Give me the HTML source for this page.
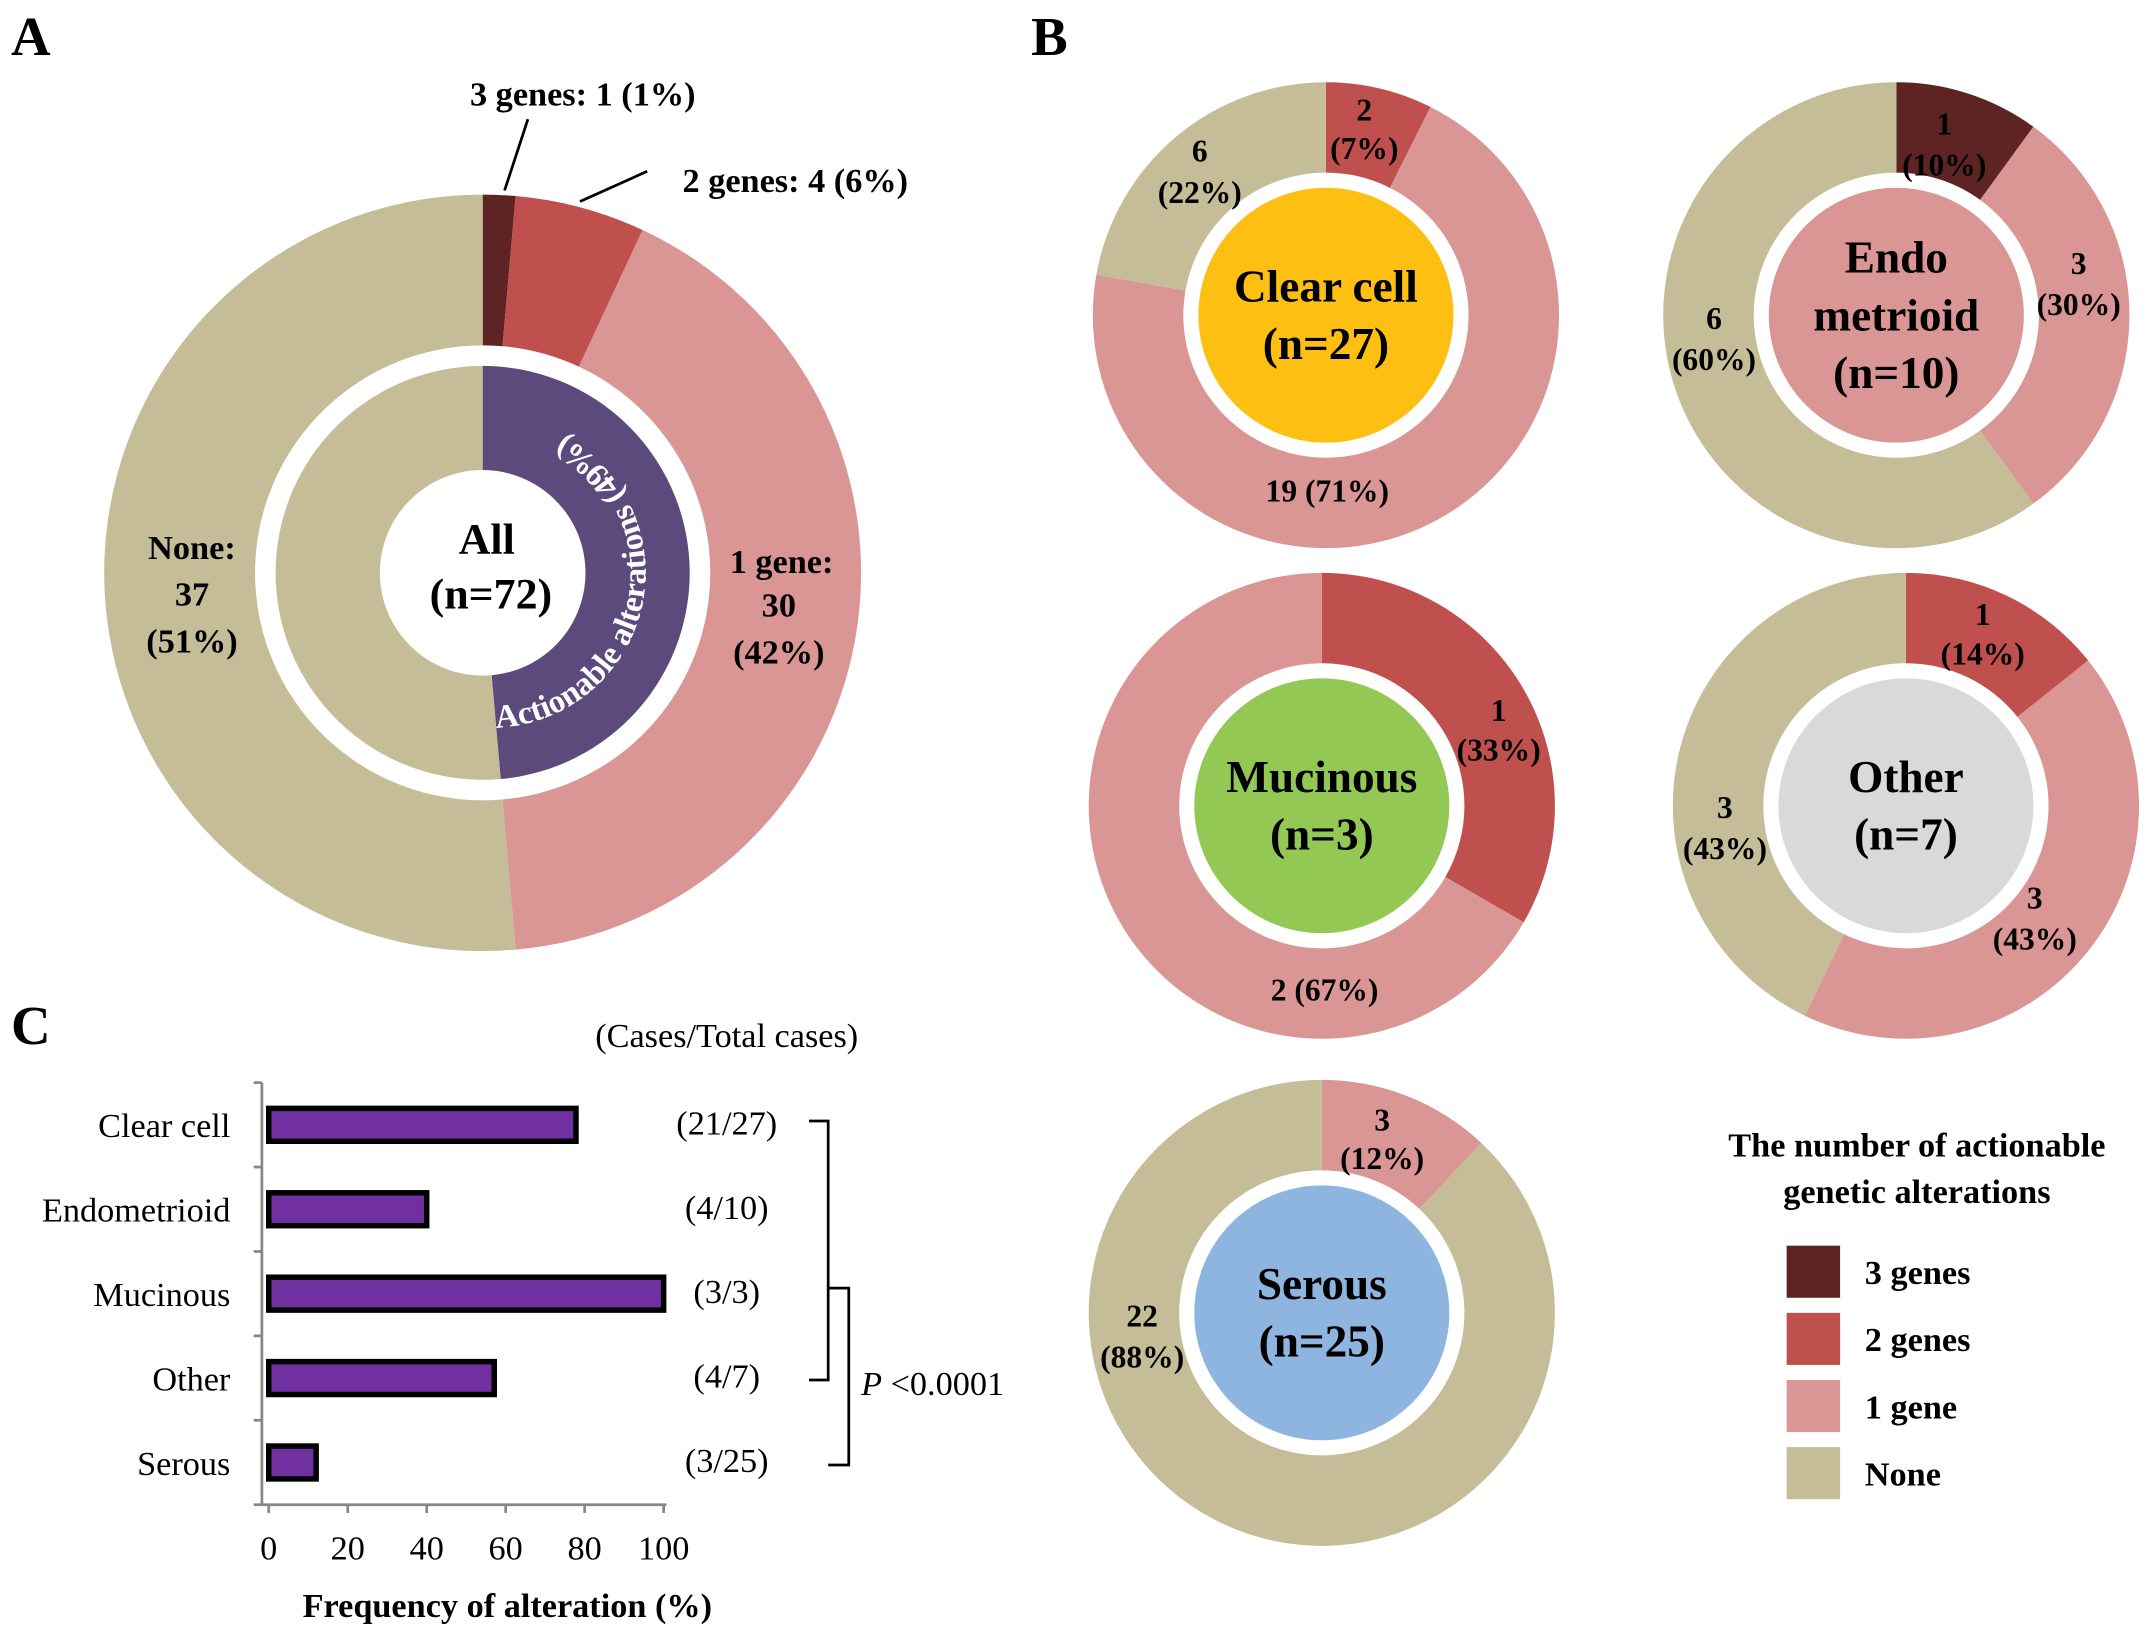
<!DOCTYPE html>
<html><head><meta charset="utf-8"><style>
html,body{margin:0;padding:0;background:#fff}
svg{display:block}
text{font-family:"Liberation Serif",serif}
</style></head><body>
<svg id="fig" width="2150" height="1639" viewBox="0 0 1568 1196" preserveAspectRatio="none" xmlns="http://www.w3.org/2000/svg">
<rect width="1568" height="1196" fill="#fff"/>
<text x="8" y="40" font-size="40" font-weight="bold">A</text>
<text x="752" y="40" font-size="40" font-weight="bold">B</text>
<text x="8" y="762" font-size="40" font-weight="bold">C</text>
<g id="pa"></g>
<g id="pb"></g>
<g id="pc"></g>
<g id="lg"></g>
</svg>
<script>
const COLORS=['#5e2424','#c0504d','#d99694','#c4bd97'];
const allCounts=[1,4,30,37];
const allInner=[35,37];
const donutNames=['Clear cell','Endometrioid','Mucinous','Other','Serous'];
const donutCounts=[[0,2,19,6],[1,0,3,6],[0,1,2,0],[0,1,3,3],[0,0,3,22]];
const barCats=['Clear cell','Endometrioid','Mucinous','Other','Serous'];
const barVals=[77.8,40,100,57.1,12];
const barLabels=['(21/27)','(4/10)','(3/3)','(4/7)','(3/25)'];
const xTicks=[0,20,40,60,80,100];
const legendLabels=['3 genes','2 genes','1 gene','None'];

const NS='http://www.w3.org/2000/svg';
function mk(tag,attrs,parent){const e=document.createElementNS(NS,tag);for(const k in attrs)e.setAttribute(k,attrs[k]);parent.appendChild(e);return e;}
function pt(cx,cy,r,f){const a=f*2*Math.PI;return [cx+r*Math.sin(a),cy-r*Math.cos(a)];}
function arc(cx,cy,r0,r1,f0,f1){
  if(f1-f0>=0.9999){return `M${cx-r1},${cy}A${r1},${r1} 0 1 1 ${cx+r1},${cy}A${r1},${r1} 0 1 1 ${cx-r1},${cy}M${cx-r0},${cy}A${r0},${r0} 0 1 0 ${cx+r0},${cy}A${r0},${r0} 0 1 0 ${cx-r0},${cy}Z`;}
  const lg=(f1-f0)>0.5?1:0;const a=pt(cx,cy,r1,f0),b=pt(cx,cy,r1,f1),c=pt(cx,cy,r0,f1),d=pt(cx,cy,r0,f0);
  return `M${a}A${r1},${r1} 0 ${lg} 1 ${b}L${c}A${r0},${r0} 0 ${lg} 0 ${d}Z`;}
function txt(p,x,y,s,size,opts){const t=mk('text',Object.assign({x:x,y:y,'font-size':size,'text-anchor':'middle','font-weight':'bold'},opts||{}),p);t.textContent=s;return t;}

// Panel A
const pa=document.getElementById('pa');
const acx=352,acy=418;
let tot=allCounts.reduce((a,b)=>a+b,0),acc=0;
allCounts.forEach((v,i)=>{const p=mk('path',{d:arc(acx,acy,166,276,acc/tot,(acc+v)/tot),fill:COLORS[i]},pa);

acc+=v;});
let itot=allInner[0]+allInner[1];
const ip1=mk('path',{d:arc(acx,acy,75,151,0,allInner[0]/itot),fill:'#5c4a7d'},pa);


const ip2=mk('path',{d:arc(acx,acy,75,151,allInner[0]/itot,1),fill:COLORS[3]},pa);


mk('path',{id:'arcTxt2',d:`M${acx+6},${acy+113} A113,113 0 0 0 ${acx+6},${acy-113}`,fill:'none'},pa);
const at=mk('text',{'font-size':24,'font-weight':'bold',fill:'#fff'},pa);
const tp=mk('textPath',{href:'#arcTxt2',startOffset:'4'},at);tp.textContent='Actionable alterations (49%)';
txt(pa,355,404,'All',32);txt(pa,358,444,'(n=72)',32);
txt(pa,140,408,'None:',25);txt(pa,140,442,'37',25);txt(pa,140,476,'(51%)',25);
txt(pa,570,418,'1 gene:',25);txt(pa,568,450,'30',25);txt(pa,568,484,'(42%)',25);
txt(pa,425,77,'3 genes: 1 (1%)',25);txt(pa,580,140,'2 genes: 4 (6%)',25);
mk('line',{x1:368,y1:139,x2:385,y2:87,stroke:'#000','stroke-width':2},pa);
mk('line',{x1:423,y1:147,x2:472,y2:125,stroke:'#000','stroke-width':2},pa);

// Panel B
const pb=document.getElementById('pb');
const centers=[[967,230],[1383,230],[964,588],[1390,588],[964,958]];
const centerFill=['#fdbf12','#d99694','#92c853','#d9d9d9','#8eb4e0'];
const centerText=[['Clear cell','(n=27)'],['Endo','metrioid','(n=10)'],['Mucinous','(n=3)'],['Other','(n=7)'],['Serous','(n=25)']];
const segLabels=[
 [[995,88,'2'],[995,116,'(7%)'],[875,118,'6'],[875,148,'(22%)'],[968,366,'19 (71%)']],
 [[1418,98,'1'],[1418,128,'(10%)'],[1516,200,'3'],[1516,230,'(30%)'],[1250,240,'6'],[1250,270,'(60%)']],
 [[1093,526,'1'],[1093,555,'(33%)'],[966,730,'2 (67%)']],
 [[1446,456,'1'],[1446,485,'(14%)'],[1258,597,'3'],[1258,627,'(43%)'],[1484,663,'3'],[1484,693,'(43%)']],
 [[1008,825,'3'],[1008,853,'(12%)'],[833,968,'22'],[833,998,'(88%)']]];
donutCounts.forEach((cnt,k)=>{const [cx,cy]=centers[k];const g=mk('g',{},pb);
 
 
 const t=cnt.reduce((a,b)=>a+b,0);let a=0;
 cnt.forEach((v,i)=>{if(!v)return;const p=mk('path',{d:arc(cx,cy,104,170,a/t,(a+v)/t),fill:COLORS[i]},g);
 
 a+=v;});
 mk('circle',{cx:cx,cy:cy,r:93,fill:centerFill[k]},g);
 const lines=centerText[k];const y0=cy-(lines.length-1)*21+11;
 lines.forEach((s,j)=>txt(g,cx,y0+j*42,s,33));
 segLabels[k].forEach(l=>txt(g,l[0],l[1],l[2],23));
});

// Panel C
const pc=document.getElementById('pc');
const x0=196,x1=484,yTop=790,band=61.6;
const xs=v=>x0+(x1-x0)*v/100;
mk('line',{x1:191,y1:yTop,x2:191,y2:1098,stroke:'#888','stroke-width':2},pc);
mk('line',{x1:191,y1:1098,x2:486,y2:1098,stroke:'#888','stroke-width':2},pc);
for(let i=0;i<=barCats.length;i++)mk('line',{x1:185,y1:yTop+i*band,x2:191,y2:yTop+i*band,stroke:'#888','stroke-width':2},pc);
xTicks.forEach(v=>{mk('line',{x1:xs(v),y1:1098,x2:xs(v),y2:1104,stroke:'#888','stroke-width':2},pc);
 txt(pc,xs(v),1138,String(v),25,{'font-weight':'normal'});});
barCats.forEach((c,i)=>{const cy=yTop+band*(i+0.5);
 const r=mk('rect',{x:x0,y:cy-12,width:xs(barVals[i])-x0,height:24,fill:'#7030a0',stroke:'#000','stroke-width':4},pc);
 
 
 txt(pc,168,cy+9,c,25,{'font-weight':'normal','text-anchor':'end'});
 txt(pc,530,cy+7,barLabels[i],25,{'font-weight':'normal'});});
txt(pc,530,764,'(Cases/Total cases)',25,{'font-weight':'normal'});
txt(pc,370,1180,'Frequency of alteration (%)',25);
mk('path',{d:'M590,818 H604 V1007 H590',fill:'none',stroke:'#000','stroke-width':2},pc);
mk('path',{d:'M604,940 H619 V1069 H604',fill:'none',stroke:'#000','stroke-width':2},pc);
const pv=txt(pc,628,1018,'',25,{'font-weight':'normal','text-anchor':'start'});
pv.innerHTML='<tspan font-style="italic">P</tspan> &lt;0.0001';

// Legend
const lg=document.getElementById('lg');
txt(lg,1398,844,'The number of actionable',25);txt(lg,1398,878,'genetic alterations',25);
legendLabels.forEach((s,i)=>{const y=909+i*49;
 const r=mk('rect',{x:1303,y:y,width:39,height:38,fill:COLORS[i]},lg);
 
 
 txt(lg,1360,y+28,s,25,{'text-anchor':'start'});});
</script>
</body></html>
